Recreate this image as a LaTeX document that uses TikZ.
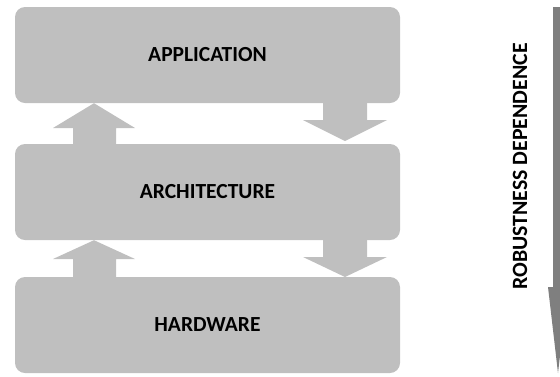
\documentclass[tikz,border=0pt]{standalone}
\usepackage{fontspec}
\setmainfont{Carlito}
\definecolor{layergray}{HTML}{BFBFBF}
\definecolor{axisgray}{HTML}{7F7F7F}
\tikzset{
    layer/.style={fill=layergray, rounded corners=10pt, minimum width=385pt, minimum height=96pt, inner sep=0pt, font=\fontsize{21.5}{24}\selectfont\bfseries},
    blockarrow/.style={fill=layergray}
}
\begin{document}
\begin{tikzpicture}[x=1pt,y=-1pt]
    \clip (0,0) rectangle (560,376);
    \node[layer] (app) at (207.5,55) {APPLICATION};
    \node[layer] (arch) at (207.5,192) {ARCHITECTURE};
    \node[layer] (hw) at (207.5,325) {HARDWARE};
    % upward arrows (left side)
    \foreach \lo/\hi/\hb in {arch/app/128, hw/arch/259}{
        \fill[blockarrow] (73,0 |- \lo.north) -- (73,\hb) -- (53,\hb) -- (94,0 |- \hi.south) -- (135,\hb) -- (116,\hb) -- (116,0 |- \lo.north) -- cycle;
    }
    % downward arrows (right side)
    \foreach \hi/\lo/\sb/\tp in {app/arch/120/141, arch/hw/257/277}{
        \fill[blockarrow] (323,0 |- \hi.south) -- (323,\sb) -- (303,\sb) -- (345,\tp) -- (387,\sb) -- (367,\sb) -- (367,0 |- \hi.south) -- cycle;
    }
    % robustness axis
    \node[rotate=90, font=\fontsize{21.8}{24}\selectfont\bfseries] (robust) at (520,166.5) {ROBUSTNESS DEPENDENCE};
    \fill[axisgray] (553,7) -- (553,287) -- (548,287) -- (558,373) -- (568,287) -- (563,287) -- (563,7) -- cycle;
\end{tikzpicture}
\end{document}
